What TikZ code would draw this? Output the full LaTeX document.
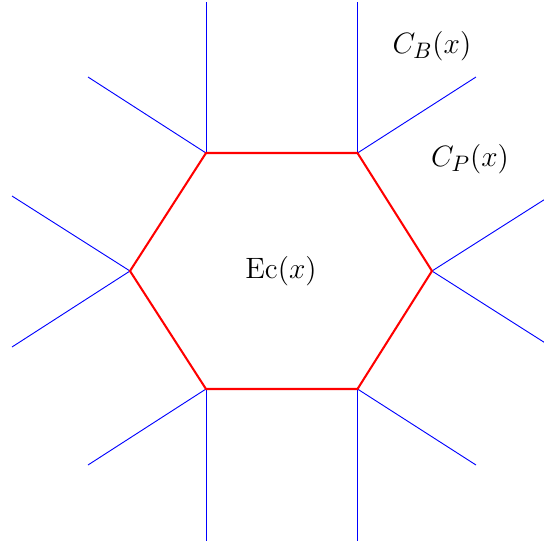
\documentclass[tikz,border=0pt]{standalone}
\usepackage{amsmath,amssymb}
\usetikzlibrary{positioning,calc}
\tikzset{
  hexedge/.style={red,line width=1pt,line join=miter},
  cellray/.style={blue,line width=0.45pt},
  cellname/.style={font=\fontsize{15}{18}\selectfont,inner sep=1pt},
}
\begin{document}
\begin{tikzpicture}[x=0.0172cm,y=-0.0172cm]
  \useasboundingbox (0,0) rectangle (544,545);
  \clip (0,0) rectangle (544,545);
  % hexagon corners
  \coordinate (tl) at (206,153);
  \coordinate (tr) at (357.5,153);
  \coordinate (r) at (432,271);
  \coordinate (br) at (357.5,389);
  \coordinate (bl) at (206,389);
  \coordinate (l) at (130,271);
  % free ends of the rays
  \coordinate (tlup) at (206,2);
  \coordinate (tlout) at (88,77);
  \coordinate (trup) at (357.5,2);
  \coordinate (trout) at (476,77);
  \coordinate (rup) at (550,196);
  \coordinate (rdown) at (550,346);
  \coordinate (brdown) at (357.5,541);
  \coordinate (brout) at (476,465);
  \coordinate (bldown) at (206,541);
  \coordinate (blout) at (88,465);
  \coordinate (lup) at (12,196);
  \coordinate (ldown) at (12,347);
  \foreach \a/\b in {tl/tlup,tl/tlout,tr/trup,tr/trout,r/rup,r/rdown,
                     br/brdown,br/brout,bl/bldown,bl/blout,l/lup,l/ldown}
    \draw[cellray] (\a) -- (\b);
  \draw[hexedge] (tl) -- (tr) -- (r) -- (br) -- (bl) -- (l) -- cycle;
  \node[cellname] (ec) at (281,271) {$\mathrm{Ec}(x)$};
  \node[cellname] (cb) at (432,46) {$C_B(x)$};
  \node[cellname] (cp) at (470,159) {$C_P(x)$};
\end{tikzpicture}
\end{document}
